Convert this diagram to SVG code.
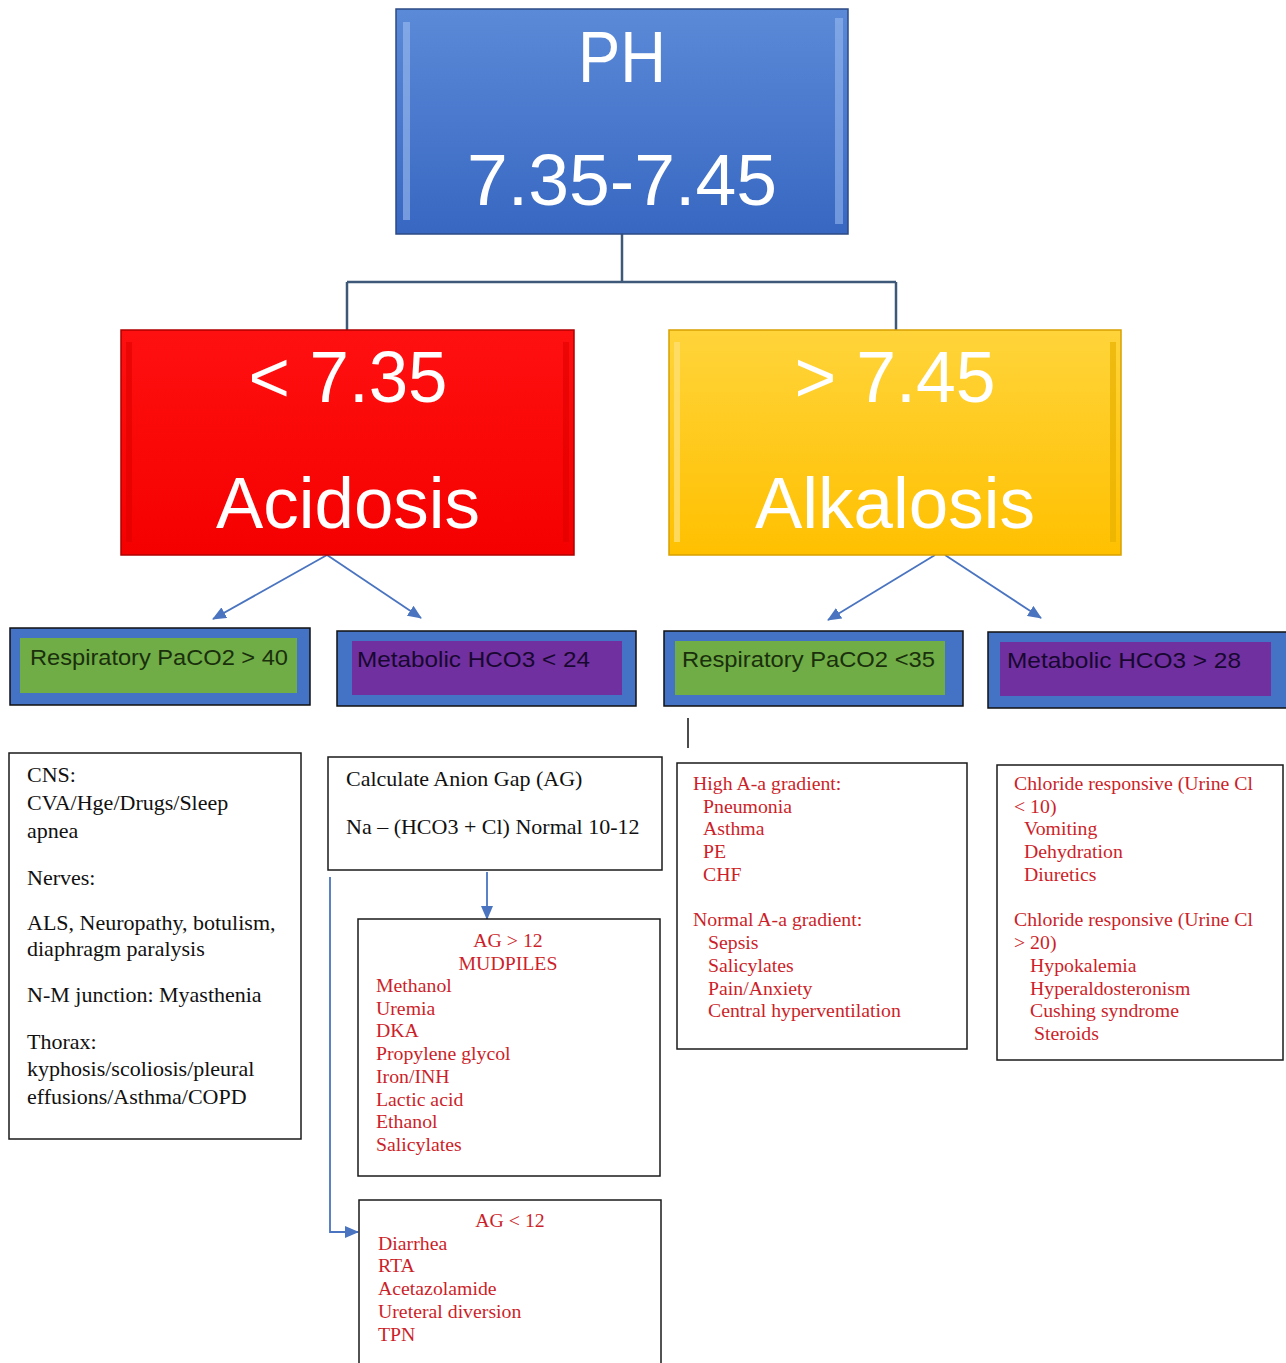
<svg xmlns="http://www.w3.org/2000/svg" width="1286" height="1363" viewBox="0 0 1286 1363">
<style>
.big{font-family:"Liberation Sans",Arial,sans-serif;fill:#ffffff;font-size:72px;text-anchor:middle}
.lbl{font-family:"Liberation Sans",Arial,sans-serif;font-size:22px}
.blk{font-family:"Liberation Serif","Times New Roman",serif;font-size:22px;fill:#111111}
.red{font-family:"Liberation Serif","Times New Roman",serif;font-size:19.8px;fill:#cc1f2a}
.box{fill:#ffffff;stroke:#1a1a1a;stroke-width:1.5}
.tree{fill:none;stroke:#3d5878;stroke-width:2.5}
.arr{fill:none;stroke:#4a74c0;stroke-width:1.8}
.outer{fill:#4472c4;stroke:#111111;stroke-width:1.5}
</style>
<defs>
<linearGradient id="gBlue" x1="0" y1="0" x2="0" y2="1"><stop offset="0" stop-color="#5b8ad8"/><stop offset="1" stop-color="#3867c2"/></linearGradient>
<linearGradient id="gRed" x1="0" y1="0" x2="0" y2="1"><stop offset="0" stop-color="#ff1010"/><stop offset="1" stop-color="#f50000"/></linearGradient>
<linearGradient id="gYel" x1="0" y1="0" x2="0" y2="1"><stop offset="0" stop-color="#ffd43a"/><stop offset="1" stop-color="#ffc000"/></linearGradient>
<marker id="ah2" markerWidth="14" markerHeight="12" refX="13" refY="6" orient="auto" markerUnits="userSpaceOnUse" viewBox="0 0 14 12"><path d="M0,0 L14,6 L0,12 z" fill="#4a74c0"/></marker>
</defs>

<g id="connectors">
<path class="tree" d="M622,234 V282 M347,282 H896 M347,282 V330 M896,282 V330"/>
<line class="arr" x1="327" y1="555" x2="213" y2="619" marker-end="url(#ah2)"/>
<line class="arr" x1="327" y1="555" x2="421" y2="618" marker-end="url(#ah2)"/>
<line class="arr" x1="935" y1="555" x2="828" y2="620" marker-end="url(#ah2)"/>
<line class="arr" x1="945" y1="555" x2="1041" y2="618" marker-end="url(#ah2)"/>
<line class="arr" x1="487" y1="872" x2="487" y2="919" marker-end="url(#ah2)"/>
<path class="arr" d="M330,877 V1232 H358" marker-end="url(#ah2)"/>
<line x1="688" y1="718" x2="688" y2="748" stroke="#111" stroke-width="1.5"/>
</g>

<g id="node-ph">
<rect x="396" y="9" width="452" height="225" fill="url(#gBlue)" stroke="#2d4a85" stroke-width="1.5"/>
<rect x="403" y="22" width="7" height="198" fill="#9cbdf0" opacity="0.6"/>
<rect x="835" y="18" width="8" height="206" fill="#9cbdf0" opacity="0.55"/>
<text class="big" x="622" y="82" textLength="88" lengthAdjust="spacingAndGlyphs">PH</text>
<text class="big" x="622" y="205" textLength="310" lengthAdjust="spacingAndGlyphs">7.35-7.45</text>
</g>

<g id="node-acidosis">
<rect x="121" y="330" width="453" height="225" fill="url(#gRed)" stroke="#b00000" stroke-width="1.5"/>
<rect x="126" y="342" width="6" height="200" fill="#e00000" opacity="0.6"/>
<rect x="563" y="342" width="6" height="200" fill="#e00000" opacity="0.6"/>
<text class="big" x="348" y="402" textLength="199" lengthAdjust="spacingAndGlyphs">&lt; 7.35</text>
<text class="big" x="348" y="528" textLength="264" lengthAdjust="spacingAndGlyphs">Acidosis</text>
</g>

<g id="node-alkalosis">
<rect x="669" y="330" width="452" height="225" fill="url(#gYel)" stroke="#d9a000" stroke-width="1.5"/>
<rect x="674" y="342" width="6" height="200" fill="#ffdf70" opacity="0.8"/>
<rect x="1110" y="342" width="6" height="200" fill="#e8b000" opacity="0.7"/>
<text class="big" x="895" y="402" textLength="201" lengthAdjust="spacingAndGlyphs">&gt; 7.45</text>
<text class="big" x="895" y="528" textLength="280" lengthAdjust="spacingAndGlyphs">Alkalosis</text>
</g>

<g id="node-resp-acid">
<rect class="outer" x="10" y="628" width="300" height="77"/>
<rect x="20" y="638" width="277" height="55" fill="#70ad47"/>
<text class="lbl" x="30" y="665" fill="#1a300c" textLength="258" lengthAdjust="spacingAndGlyphs">Respiratory PaCO2 &gt; 40</text>
</g>

<g id="node-meta-acid">
<rect class="outer" x="337" y="631" width="299" height="75"/>
<rect x="352" y="641" width="270" height="54" fill="#7030a0"/>
<text class="lbl" x="357" y="667" fill="#180830" textLength="233" lengthAdjust="spacingAndGlyphs">Metabolic HCO3 &lt; 24</text>
</g>

<g id="node-resp-alk">
<rect class="outer" x="664" y="631" width="299" height="75"/>
<rect x="675" y="641" width="270" height="54" fill="#70ad47"/>
<text class="lbl" x="682" y="667" fill="#1a300c" textLength="253" lengthAdjust="spacingAndGlyphs">Respiratory PaCO2 &lt;35</text>
</g>

<g id="node-meta-alk">
<rect class="outer" x="988" y="632" width="300" height="76"/>
<rect x="1000" y="642" width="271" height="54" fill="#7030a0"/>
<text class="lbl" x="1007" y="668" fill="#180830" textLength="234" lengthAdjust="spacingAndGlyphs">Metabolic HCO3 &gt; 28</text>
</g>

<g id="node-resp-acid-causes">
<rect class="box" x="9" y="753" width="292" height="386"/>
<text class="blk" x="27" y="782">CNS:</text>
<text class="blk" x="27" y="810">CVA/Hge/Drugs/Sleep</text>
<text class="blk" x="27" y="838">apnea</text>
<text class="blk" x="27" y="885">Nerves:</text>
<text class="blk" x="27" y="930">ALS, Neuropathy, botulism,</text>
<text class="blk" x="27" y="956">diaphragm paralysis</text>
<text class="blk" x="27" y="1002">N-M junction: Myasthenia</text>
<text class="blk" x="27" y="1049">Thorax:</text>
<text class="blk" x="27" y="1076">kyphosis/scoliosis/pleural</text>
<text class="blk" x="27" y="1104">effusions/Asthma/COPD</text>
</g>

<g id="node-anion-gap">
<rect class="box" x="328" y="757" width="334" height="113"/>
<text class="blk" x="346" y="786">Calculate Anion Gap (AG)</text>
<text class="blk" x="346" y="834">Na – (HCO3 + Cl) Normal 10-12</text>
</g>

<g id="node-ag-high">
<rect class="box" x="358" y="919" width="302" height="257"/>
<text class="red" x="508" y="947" text-anchor="middle">AG &gt; 12</text>
<text class="red" x="508" y="970" text-anchor="middle">MUDPILES</text>
<text class="red" x="376" y="992">Methanol</text>
<text class="red" x="376" y="1015">Uremia</text>
<text class="red" x="376" y="1037">DKA</text>
<text class="red" x="376" y="1060">Propylene glycol</text>
<text class="red" x="376" y="1083">Iron/INH</text>
<text class="red" x="376" y="1106">Lactic acid</text>
<text class="red" x="376" y="1128">Ethanol</text>
<text class="red" x="376" y="1151">Salicylates</text>
</g>

<g id="node-ag-low">
<rect class="box" x="359" y="1200" width="302" height="175"/>
<text class="red" x="510" y="1227" text-anchor="middle">AG &lt; 12</text>
<text class="red" x="378" y="1250">Diarrhea</text>
<text class="red" x="378" y="1272">RTA</text>
<text class="red" x="378" y="1295">Acetazolamide</text>
<text class="red" x="378" y="1318">Ureteral diversion</text>
<text class="red" x="378" y="1341">TPN</text>
</g>

<g id="node-resp-alk-causes">
<rect class="box" x="677" y="763" width="290" height="286"/>
<text class="red" x="693" y="790">High A-a gradient:</text>
<text class="red" x="703" y="813">Pneumonia</text>
<text class="red" x="703" y="835">Asthma</text>
<text class="red" x="703" y="858">PE</text>
<text class="red" x="703" y="881">CHF</text>
<text class="red" x="693" y="926">Normal A-a gradient:</text>
<text class="red" x="708" y="949">Sepsis</text>
<text class="red" x="708" y="972">Salicylates</text>
<text class="red" x="708" y="995">Pain/Anxiety</text>
<text class="red" x="708" y="1017">Central hyperventilation</text>
</g>

<g id="node-meta-alk-causes">
<rect class="box" x="997" y="765" width="286" height="295"/>
<text class="red" x="1014" y="790">Chloride responsive (Urine Cl</text>
<text class="red" x="1014" y="813">&lt; 10)</text>
<text class="red" x="1024" y="835">Vomiting</text>
<text class="red" x="1024" y="858">Dehydration</text>
<text class="red" x="1024" y="881">Diuretics</text>
<text class="red" x="1014" y="926">Chloride responsive (Urine Cl</text>
<text class="red" x="1014" y="949">&gt; 20)</text>
<text class="red" x="1030" y="972">Hypokalemia</text>
<text class="red" x="1030" y="995">Hyperaldosteronism</text>
<text class="red" x="1030" y="1017">Cushing syndrome</text>
<text class="red" x="1034" y="1040">Steroids</text>
</g>
</svg>
